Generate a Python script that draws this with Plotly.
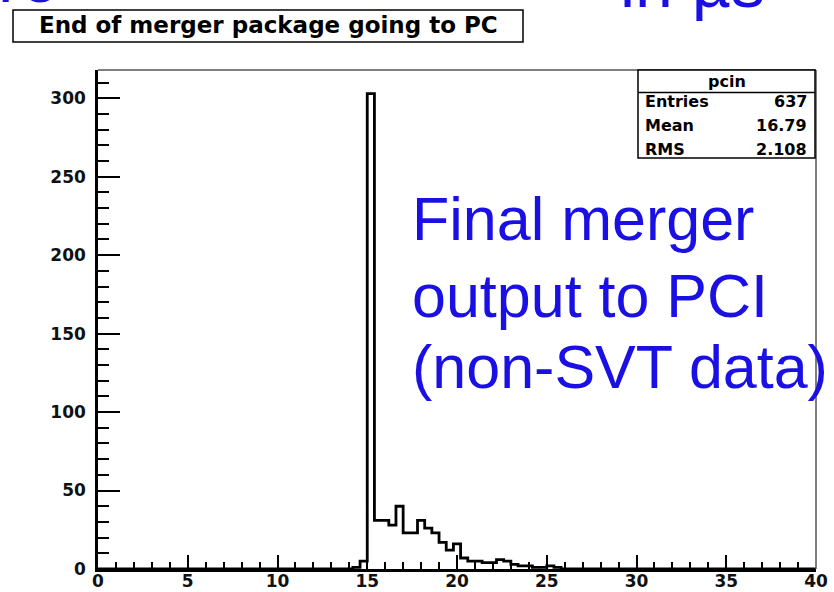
import plotly.graph_objects as go

# ---- data ----
bin_width = 0.4
first_bin_edge = 14.2
counts = [1, 5, 303, 31, 31, 28, 40, 23, 23, 31, 26, 23, 17, 12, 16, 7, 5, 5,
          4, 4, 6, 5, 3, 2, 2, 1, 1, 2, 1]
x_range = [0, 40]
y_range = [0, 318]
x_major_ticks = [0, 5, 10, 15, 20, 25, 30, 35, 40]
y_major_ticks = [0, 50, 100, 150, 200, 250, 300]
hist_name = "pcin"
stats_labels = ["Entries", "Mean", "RMS"]
stats_values = ["637", "16.79", "2.108"]
title_text = "End of merger package going to PC"
note_lines = ["Final merger", "output to PCI", "(non-SVT data)"]
slide_text_left = "re"
slide_text_right = "in µs"

# ---- build step outline from bins ----
edges = [first_bin_edge + i * bin_width for i in range(len(counts) + 1)]
xs = [x_range[0]] + edges + [x_range[1]]
ys = [0] + counts + [0, 0]

W, H = 834, 592
L, R, T, B = 98, 816, 70, 569


def px(xp):
    return (xp - L) / (R - L)


def py(yp):
    return (B - yp) / (B - T)


fig = go.Figure()
fig.add_trace(go.Scatter(x=xs, y=ys, mode="lines", line=dict(color="black", width=2.8, shape="hv"),
                         hoverinfo="skip", showlegend=False))

tickfont = dict(family="DejaVu Sans", size=17, color="#111", weight="bold")
fig.update_xaxes(range=x_range, tickvals=x_major_ticks, ticks="inside", ticklen=14, tickwidth=1.5,
                 tickcolor="black", showline=True, linecolor="black", linewidth=2.5, showgrid=False,
                 zeroline=False, tickfont=tickfont, automargin=False, ticklabelstandoff=-5,
                 minor=dict(dtick=1, ticks="inside", ticklen=7, tickwidth=1.5, tickcolor="black", showgrid=False))
fig.update_yaxes(range=y_range, tickvals=y_major_ticks, ticks="inside", ticklen=22, tickwidth=1.5,
                 tickcolor="black", showline=True, linecolor="black", linewidth=2.5, showgrid=False,
                 zeroline=False, tickfont=tickfont, automargin=False, ticklabelstandoff=6,
                 minor=dict(dtick=10, ticks="inside", ticklen=11, tickwidth=1.5, tickcolor="black", showgrid=False))

shapes = []
# frame top/right
shapes.append(dict(type="line", xref="paper", yref="paper", x0=0, x1=1, y0=1, y1=1,
                   line=dict(color="#555", width=1.5)))
shapes.append(dict(type="line", xref="paper", yref="paper", x0=1, x1=1, y0=0, y1=1,
                   line=dict(color="#555", width=1.5)))
# stats box
shapes.append(dict(type="rect", xref="paper", yref="paper", x0=px(638), x1=px(815), y0=py(158), y1=py(70),
                   line=dict(color="black", width=1.5), fillcolor="white"))
shapes.append(dict(type="line", xref="paper", yref="paper", x0=px(638), x1=px(815), y0=py(92.5), y1=py(92.5),
                   line=dict(color="black", width=1.5)))
# title box
shapes.append(dict(type="rect", xref="paper", yref="paper", x0=px(13), x1=px(523), y0=py(42), y1=py(10),
                   line=dict(color="black", width=1.5), fillcolor="white"))

ann = []
boldfont = dict(family="DejaVu Sans", size=16, color="black", weight="bold")
ann.append(dict(xref="paper", yref="paper", x=px(727), y=py(81), text=hist_name, showarrow=False,
                xanchor="center", yanchor="middle", font=boldfont))
for i, (lab, val) in enumerate(zip(stats_labels, stats_values)):
    yy = py(102 + i * 23.5)
    ann.append(dict(xref="paper", yref="paper", x=px(643), y=yy, text=lab, showarrow=False,
                    xanchor="left", yanchor="middle", font=boldfont))
    ann.append(dict(xref="paper", yref="paper", x=px(809), y=yy, text=val, showarrow=False,
                    xanchor="right", yanchor="middle", font=boldfont))
ann.append(dict(xref="paper", yref="paper", x=px(268), y=py(25), text=title_text,
                showarrow=False, xanchor="center", yanchor="middle",
                font=dict(family="DejaVu Sans", size=23, color="black", weight="bold")))
blue = "#1a10e3"
note_baselines = [255, 332, 403]
for line, yb in zip(note_lines, note_baselines):
    ann.append(dict(xref="paper", yref="paper", x=px(410), y=py(yb), text=line, showarrow=False,
                    xanchor="left", yanchor="bottom", font=dict(family="Liberation Sans", size=61, color=blue)))
# cut-off slide text at top
ann.append(dict(xref="paper", yref="paper", x=px(618), y=py(23), text=slide_text_right, showarrow=False,
                xanchor="left", yanchor="bottom", font=dict(family="Liberation Sans", size=68, color=blue)))
ann.append(dict(xref="paper", yref="paper", x=px(-4), y=py(18), text=slide_text_left, showarrow=False,
                xanchor="left", yanchor="bottom", font=dict(family="Liberation Sans", size=68, color=blue)))

fig.update_layout(width=W, height=H, margin=dict(l=L, r=W - R, t=T, b=H - B),
                  paper_bgcolor="white", plot_bgcolor="white", shapes=shapes, annotations=ann)
fig.write_html("out.html", config={"displayModeBar": False},
               post_script="document.body.style.margin='0';document.body.style.overflow='hidden';")
